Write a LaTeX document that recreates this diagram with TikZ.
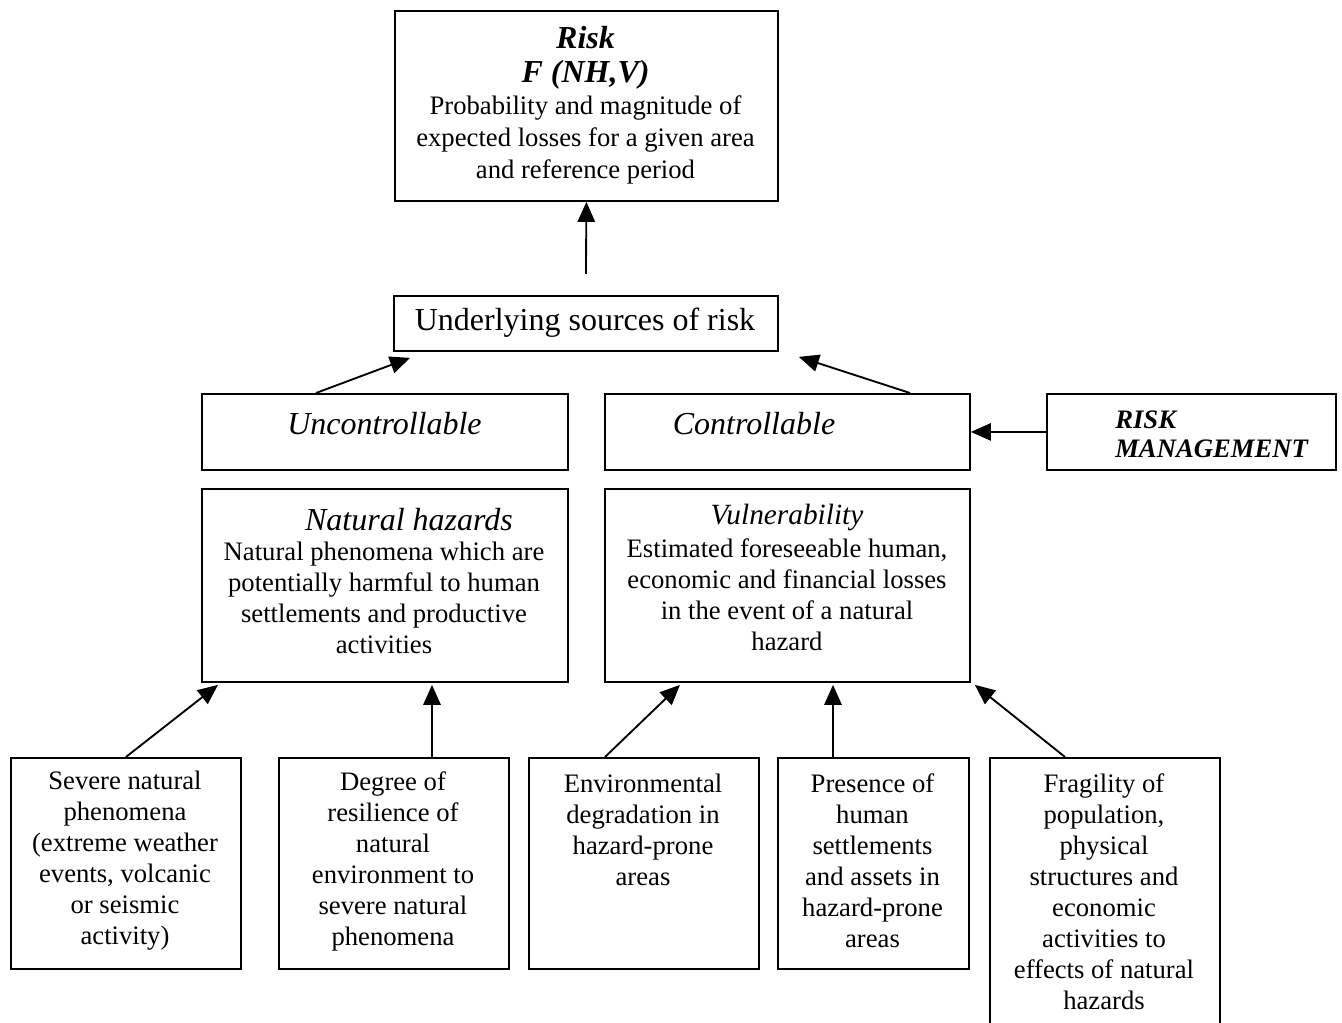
\documentclass[tikz,border=0pt]{standalone}
\usepackage{fontspec}
\setmainfont{Liberation Serif}
\usetikzlibrary{arrows.meta,calc}
\begin{document}
\begin{tikzpicture}[x=0.75pt,y=-0.75pt,
  bx/.style 2 args={draw, line width=1.4pt, minimum width={#1*0.75pt}, minimum height={#2*0.75pt}, inner sep=0pt, anchor=north west},
  body/.style={align=center, inner sep=0pt, font=\fontsize{20}{23.25}\selectfont},
  head/.style={align=center, inner sep=0pt, font=\fontsize{24}{28}\selectfont\itshape},
  arr/.style={line width=1.4pt, -{Triangle[length=15pt,width=13pt]}}]
\useasboundingbox (0,0) rectangle (1342,1023);
% boxes
\node[bx={383}{190}] (risk) at (394,10) {};
\node[bx={384}{55}] (und) at (393,295) {};
\node[bx={366}{76}] (unc) at (201,393) {};
\node[bx={365}{76}] (con) at (604,393) {};
\node[bx={289}{76}] (rm) at (1046,393) {};
\node[bx={366}{193}] (nh) at (201,488) {};
\node[bx={365}{193}] (vul) at (604,488) {};
\node[bx={230}{211}] (sev) at (10,757) {};
\node[bx={230}{211}] (deg) at (278,757) {};
\node[bx={230}{211}] (env) at (528,757) {};
\node[bx={191}{211}] (pre) at (777,757) {};
\node[bx={230}{300}] (fra) at (989,757) {};
% texts
\node[align=center, inner sep=0pt, font=\fontsize{24}{25.5}\selectfont\bfseries\itshape] (riskt) at (585.5,58) {Risk\\F (NH,V)};
\node[body, font=\fontsize{20}{24}\selectfont] (riskb) at (585.5,140) {Probability and magnitude of\\expected losses for a given area\\and reference period};
\node[head, font=\fontsize{24}{28}\selectfont\upshape] (undt) at (585,323) {Underlying sources of risk};
\node[head] (unct) at (384.5,424) {Uncontrollable};
\node[head] (cont) at (754,424) {Controllable};
\node[align=left, anchor=west, inner sep=0pt, font=\fontsize{20}{21.75}\selectfont\bfseries\itshape] (rmt) at (1115,434.5) {RISK\\MANAGEMENT};
\node[head] (nht) at (409,520) {Natural hazards};
\node[body] (nhb) at (384,598) {Natural phenomena which are\\potentially harmful to human\\settlements and productive\\activities};
\node[head, font=\fontsize{22}{26}\selectfont\itshape] (vult) at (787,517) {Vulnerability};
\node[body] (vulb) at (787,595) {Estimated foreseeable human,\\economic and financial losses\\in the event of a natural\\hazard};
\node[body] (sevt) at (125,861) {Severe natural\\phenomena\\(extreme weather\\events, volcanic\\or seismic\\activity)};
\node[body] (degt) at (393,861) {Degree of\\resilience of\\natural\\environment to\\severe natural\\phenomena};
\node[body] (envt) at (643,830) {Environmental\\degradation in\\hazard-prone\\areas};
\node[body] (pret) at (872.5,861) {Presence of\\human\\settlements\\and assets in\\hazard-prone\\areas};
\node[body] (frat) at (1104,892) {Fragility of\\population,\\physical\\structures and\\economic\\activities to\\effects of natural\\hazards};
% connectors
\coordinate (risktail) at ($(und.north)+(0,-21)$);
\draw[arr] (risktail) -- (risk.south);
\draw[arr] ($(unc.north west)+(115,0)$) -- ($(und.south west)+(17,6)$);
\draw[arr] ($(con.north west)+(306,0)$) -- ($(und.south east)+(20,5)$);
\draw[arr] (rm.west) -- (con.east);
\draw[arr] (sev.north) -- ($(nh.south west)+(17,2)$);
\draw[arr] ($(deg.north west)+(154,0)$) -- ($(nh.south west)+(231,2)$);
\draw[arr] ($(env.north west)+(77,0)$) -- ($(vul.south west)+(76,2)$);
\draw[arr] ($(pre.north west)+(56,0)$) -- ($(vul.south west)+(229,2)$);
\draw[arr] ($(fra.north west)+(76,0)$) -- ($(vul.south east)+(4,2)$);
\end{tikzpicture}
\end{document}
